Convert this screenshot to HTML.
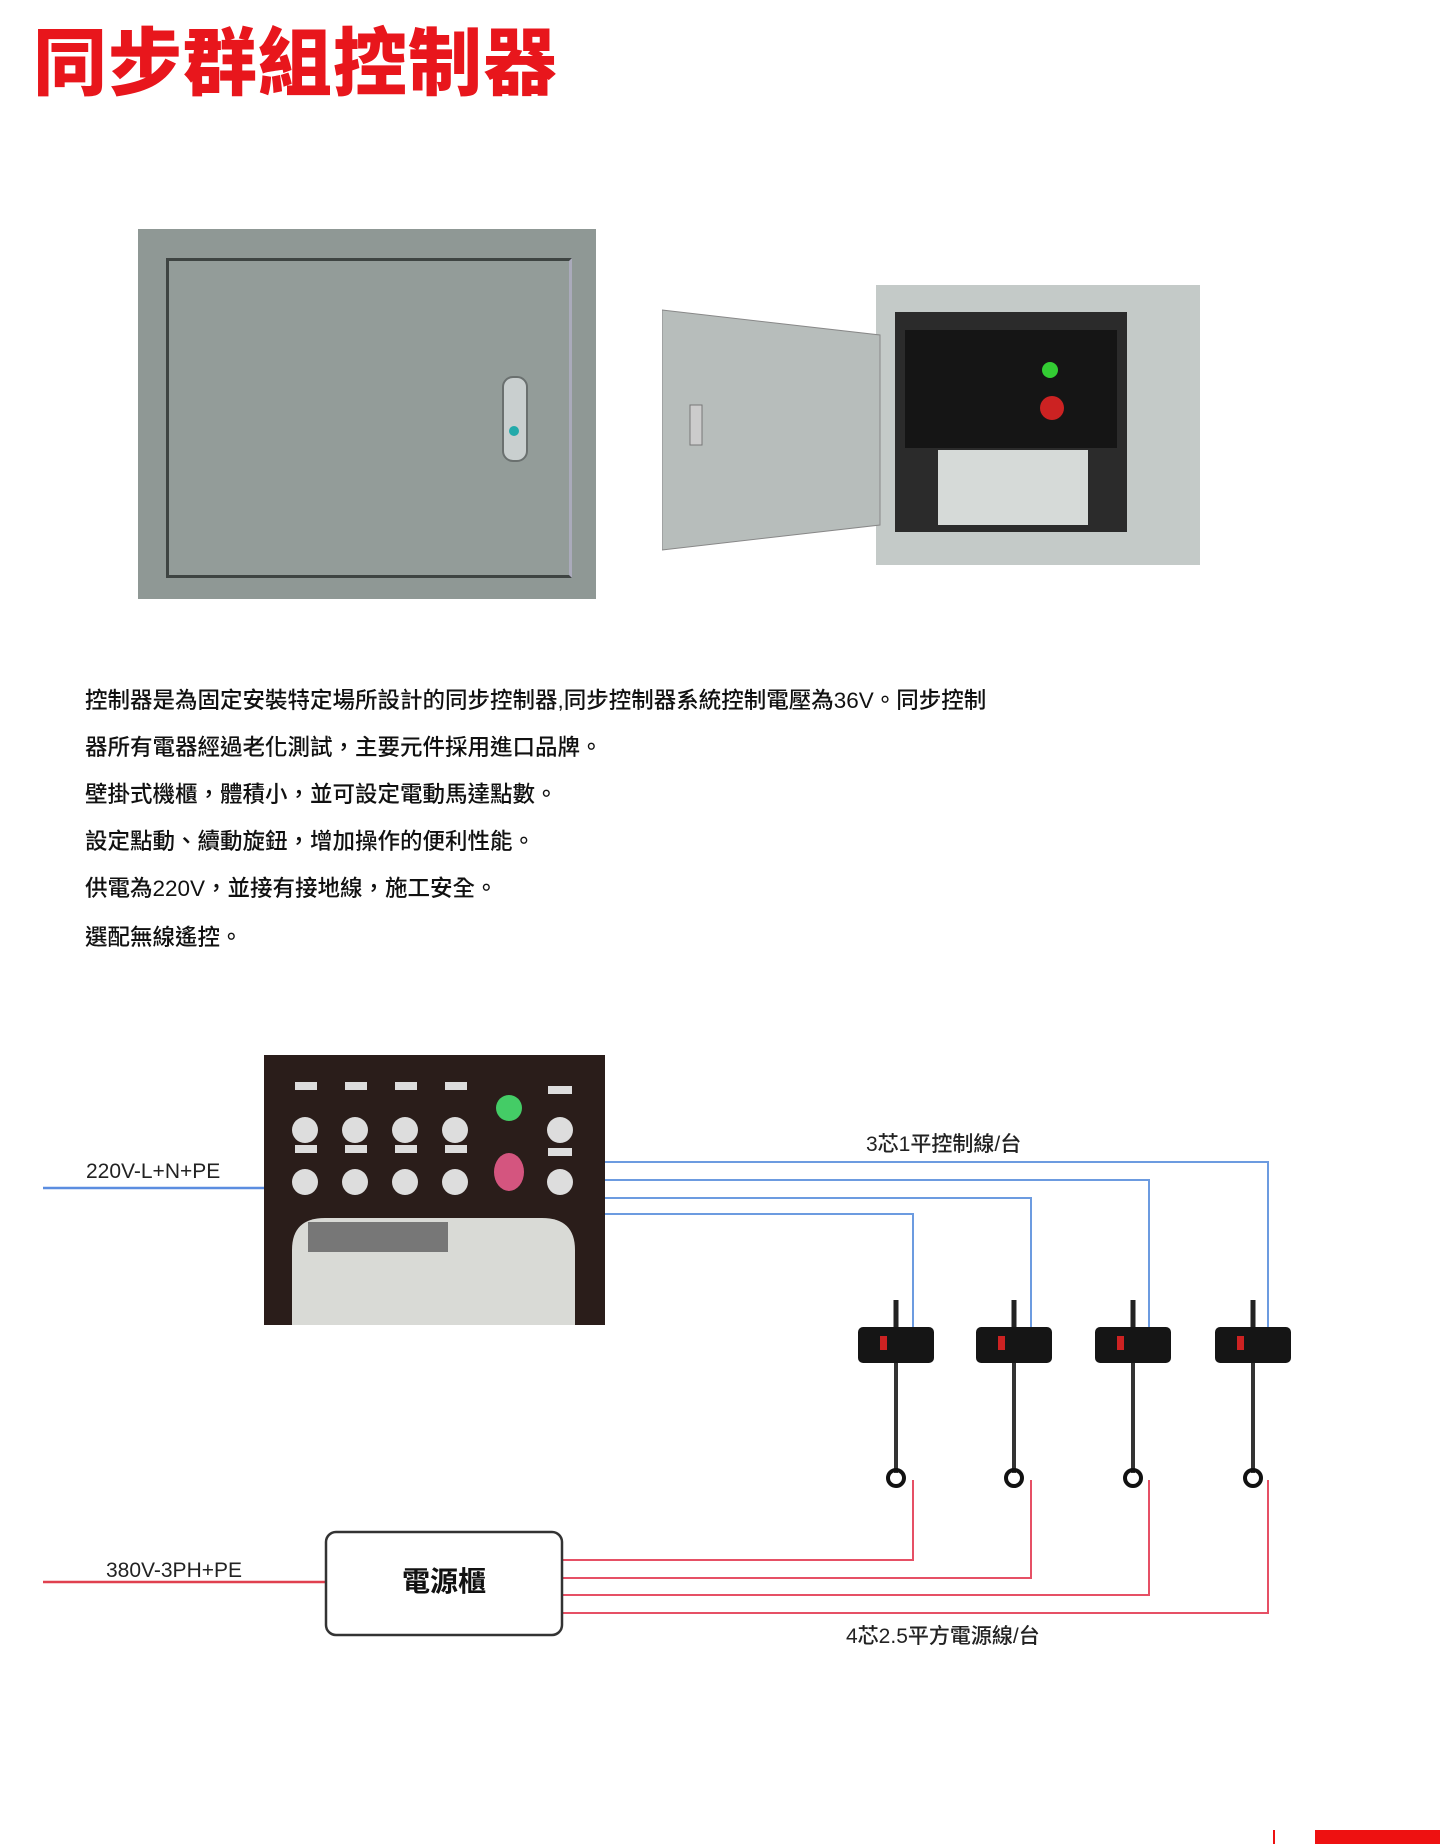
<!DOCTYPE html>
<html><head><meta charset="utf-8"><style>
body{margin:0;width:1440px;height:1844px;background:#fff;position:relative;overflow:hidden;font-family:"Liberation Sans","Noto Sans CJK TC",sans-serif}
.a{position:absolute}
.t{font-size:22.5px;color:#111;left:85px;font-weight:500}
</style></head><body>
<div class="a" style="left:33px;top:4px;font-size:74px;font-weight:900;color:#e8161c;letter-spacing:1px;font-family:'Noto Sans CJK TC',sans-serif">同步群組控制器</div>

<!-- closed cabinet -->
<div class="a" style="left:138px;top:229px;width:458px;height:370px;background:#8f9895"></div>
<div class="a" style="left:166px;top:258px;width:400px;height:314px;border:3px solid #3e4442;border-right-color:#aab;border-bottom-color:#3e4442;background:#939c99"></div>
<div class="a" style="left:502px;top:376px;width:22px;height:82px;border-radius:11px;background:#c9cfcf;border:2px solid #6a706f"></div>
<div class="a" style="left:509px;top:426px;width:10px;height:10px;border-radius:5px;background:#2aa"></div>

<!-- open cabinet -->
<div class="a" style="left:876px;top:285px;width:324px;height:280px;background:#c4cac8"></div>
<div class="a" style="left:895px;top:312px;width:232px;height:220px;background:#2b2b2b"></div>
<div class="a" style="left:905px;top:330px;width:212px;height:118px;background:#151515"></div>
<div class="a" style="left:938px;top:450px;width:150px;height:75px;background:#d6dad8"></div>
<div class="a" style="left:1042px;top:362px;width:16px;height:16px;border-radius:8px;background:#3c3"></div>
<div class="a" style="left:1040px;top:396px;width:24px;height:24px;border-radius:12px;background:#c22"></div>
<svg class="a" style="left:662px;top:305px" width="220" height="250"><polygon points="0,5 218,30 218,220 0,245" fill="#b7bdbb" stroke="#888"/><rect x="28" y="100" width="12" height="40" fill="#ccc" stroke="#777"/></svg>

<div class="a t" style="top:683px">控制器是為固定安裝特定場所設計的同步控制器,同步控制器系統控制電壓為36V。同步控制</div>
<div class="a t" style="top:730px">器所有電器經過老化測試，主要元件採用進口品牌。</div>
<div class="a t" style="top:777px">壁掛式機櫃，體積小，並可設定電動馬達點數。</div>
<div class="a t" style="top:824px">設定點動、續動旋鈕，增加操作的便利性能。</div>
<div class="a t" style="top:871px">供電為220V，並接有接地線，施工安全。</div>
<div class="a t" style="top:920px">選配無線遙控。</div>

<svg class="a" style="left:0;top:0" width="1440" height="1844">
<g fill="none" stroke-width="2.5">
<path d="M43 1188H264" stroke="#5b8de0"/>
<g stroke="#6c9be0" stroke-width="2"><path d="M605 1162H1268V1330"/><path d="M605 1180H1149V1330"/><path d="M605 1198H1031V1330"/><path d="M605 1214H913V1330"/></g>
<path d="M43 1582H326" stroke="#e0404f"/>
<g stroke="#e65065" stroke-width="2"><path d="M562 1560H913V1480"/><path d="M562 1578H1031V1480"/><path d="M562 1595H1149V1480"/><path d="M562 1613H1268V1480"/></g>
</g>
<rect x="326" y="1532" width="236" height="103" rx="10" fill="#fff" stroke="#333" stroke-width="2.5"/>
<rect x="264" y="1055" width="341" height="270" fill="#2a1d1a"/>
<path d="M292 1325V1250Q292 1218 325 1218H542Q575 1218 575 1250V1325Z" fill="#d9dad6"/>
<rect x="308" y="1222" width="140" height="30" fill="#777"/>
<g fill="#ddd"><circle cx="305" cy="1130" r="13"/><circle cx="355" cy="1130" r="13"/><circle cx="405" cy="1130" r="13"/><circle cx="455" cy="1130" r="13"/><circle cx="560" cy="1130" r="13"/>
<circle cx="305" cy="1182" r="13"/><circle cx="355" cy="1182" r="13"/><circle cx="405" cy="1182" r="13"/><circle cx="455" cy="1182" r="13"/><circle cx="560" cy="1182" r="13"/>
<rect x="295" y="1082" width="22" height="8"/><rect x="345" y="1082" width="22" height="8"/><rect x="395" y="1082" width="22" height="8"/><rect x="445" y="1082" width="22" height="8"/><rect x="548" y="1086" width="24" height="8"/>
<rect x="295" y="1145" width="22" height="8"/><rect x="345" y="1145" width="22" height="8"/><rect x="395" y="1145" width="22" height="8"/><rect x="445" y="1145" width="22" height="8"/><rect x="548" y="1148" width="24" height="8"/></g>
<circle cx="509" cy="1108" r="13" fill="#4c6"/><ellipse cx="509" cy="1172" rx="15" ry="19" fill="#d4557f"/>
<g font-size="21" fill="#222"><text x="86" y="1178">220V-L+N+PE</text><text x="106" y="1577">380V-3PH+PE</text>
<text x="866" y="1151" font-weight="500">3芯1平控制線/台</text><text x="846" y="1643" font-weight="500">4芯2.5平方電源線/台</text></g>
<text x="444" y="1591" font-size="28" font-weight="bold" text-anchor="middle" fill="#111">電源櫃</text>
<g id="h"><path d="M896 1300v30" stroke="#222" stroke-width="5"/><rect x="858" y="1327" width="76" height="36" rx="5" fill="#151515"/><rect x="880" y="1336" width="7" height="14" fill="#c22"/><path d="M896 1363v110" stroke="#333" stroke-width="4"/><circle cx="896" cy="1478" r="8" fill="none" stroke="#111" stroke-width="4"/></g>
<use href="#h" x="118"/><use href="#h" x="237"/><use href="#h" x="357"/>
<path d="M1274 1830V1844" stroke="#e11" stroke-width="2"/><rect x="1315" y="1830" width="125" height="14" fill="#e11"/>
</svg>
</body></html>
